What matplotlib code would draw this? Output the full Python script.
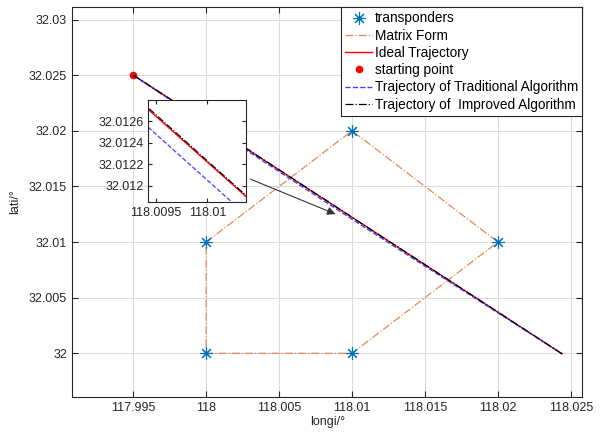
import matplotlib
matplotlib.use("Agg")
import matplotlib.pyplot as plt

plt.rcParams["font.family"] = ["Liberation Sans", "DejaVu Sans"]

# transponder positions
trans_lon = [118.0, 118.0, 118.01, 118.02, 118.01]
trans_lat = [32.01, 32.0, 32.0, 32.01, 32.02]

# matrix form polygon
matrix_lon = [118.0, 118.01, 118.02, 118.01, 118.0, 118.0]
matrix_lat = [32.01, 32.02, 32.01, 32.0, 32.0, 32.01]

# trajectories
ideal_lon = [117.995, 118.0244]
ideal_lat = [32.025, 31.99995]

trad_lon = [117.995, 118.0, 118.005, 118.0095, 118.0102, 118.015, 118.02, 118.0244]
trad_lat = [32.025, 32.02064, 32.01633, 32.01248, 32.01188, 32.00784, 32.00364, 31.99995]

impr_lon = [117.995, 118.0, 118.005, 118.0095, 118.0102, 118.015, 118.02, 118.0244]
impr_lat = [32.025, 32.02076, 32.01650, 32.01266, 32.01206, 32.00797, 32.00371, 31.99995]

start_lon = [117.995]
start_lat = [32.025]

blue = "#0072BD"
orange = "#E8875A"
asterisk = (8, 2, 0)

fig = plt.figure(figsize=(6.05, 4.32), dpi=100)
ax = fig.add_axes([0.119, 0.0817, 0.8438, 0.9014])

ax.plot(trans_lon, trans_lat, linestyle="none", marker=asterisk, markersize=9,
        markeredgewidth=0.8, color=blue, label="transponders", zorder=5)
ax.plot(matrix_lon, matrix_lat, linestyle="-.", color=orange, linewidth=0.9,
        label="Matrix Form")
ax.plot(ideal_lon, ideal_lat, "-", color="red", linewidth=1.0, label="Ideal Trajectory")
ax.plot(start_lon, start_lat, "o", color="red", markersize=4.5, label="starting point")
ax.plot(trad_lon, trad_lat, "--", color="#4040FF", linewidth=1.0,
        label="Trajectory of Traditional Algorithm")
ax.plot(impr_lon, impr_lat, "-.", color="black", linewidth=0.9,
        label="Trajectory of  Improved Algorithm")

ax.set_xlim(117.9908, 118.0258)
ax.set_ylim(31.9961, 32.0311)
ax.set_xticks([117.995, 118.0, 118.005, 118.01, 118.015, 118.02, 118.025])
ax.set_xticklabels(["117.995", "118", "118.005", "118.01", "118.015", "118.02", "118.025"])
ax.set_yticks([32.0, 32.005, 32.01, 32.015, 32.02, 32.025, 32.03])
ax.set_yticklabels(["32", "32.005", "32.01", "32.015", "32.02", "32.025", "32.03"])
ax.tick_params(direction="in", top=True, right=True, labelsize=9, colors="#262626",
               length=4)
ax.grid(True, color="#DCDCDC", linewidth=0.8)
for s in ax.spines.values():
    s.set_color("#262626")
    s.set_linewidth(0.8)
ax.set_xlabel("longi/°", fontsize=9, color="#262626", labelpad=2)
ax.set_ylabel("lati/°", fontsize=9, color="#262626", labelpad=6)

leg = ax.legend(loc="upper right", fontsize=9.8, handlelength=2.0, handletextpad=0.2,
                labelspacing=0.24, borderpad=0.3, borderaxespad=0, fancybox=False,
                framealpha=1, edgecolor="#262626")
leg.get_frame().set_linewidth(0.8)

# inset
axin = fig.add_axes([148.3 / 605, 1 - 202.3 / 432, 97.4 / 605, 102.3 / 432])
axin.plot(ideal_lon, ideal_lat, "-", color="red", linewidth=1.0)
axin.plot(trad_lon, trad_lat, "--", color="#4040FF", linewidth=0.9)
axin.plot(impr_lon, impr_lat, "-.", color="black", linewidth=0.8)
axin.set_xlim(118.009428, 118.010372)
axin.set_ylim(32.011846, 32.012795)
axin.set_xticks([118.0095, 118.01])
axin.set_xticklabels(["118.0095", "118.01"])
axin.set_yticks([32.012, 32.0122, 32.0124, 32.0126])
axin.set_yticklabels(["32.012", "32.0122", "32.0124", "32.0126"])
axin.tick_params(direction="in", top=True, right=True, labelsize=9, colors="#262626",
                 length=3)
for s in axin.spines.values():
    s.set_color("#262626")
    s.set_linewidth(0.8)

ax.annotate("", xy=(118.00904, 32.01242), xytext=(118.00286, 32.01575),
            arrowprops=dict(arrowstyle="-|>", color="#333333", linewidth=0.8,
                            mutation_scale=12))

fig.savefig("out.png", dpi=100)
